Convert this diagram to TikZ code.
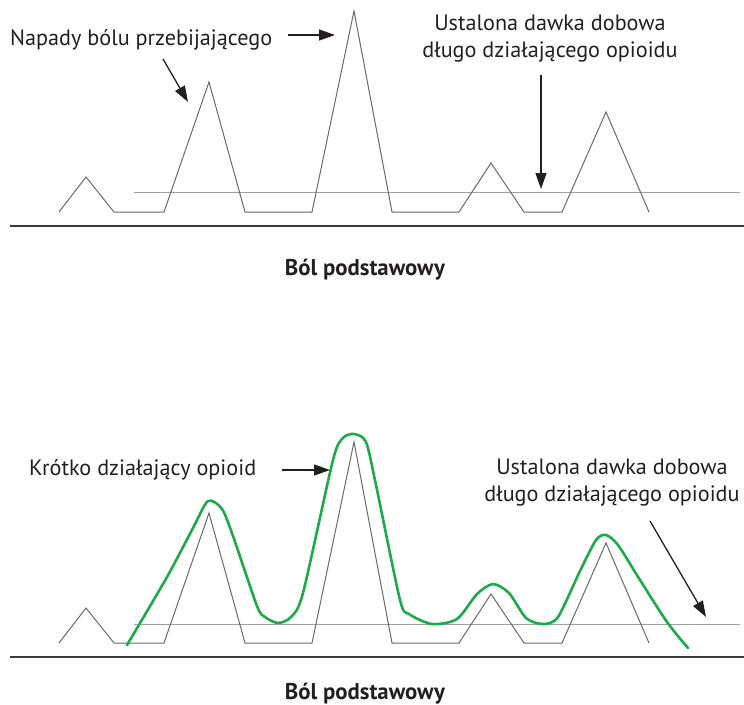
\documentclass[tikz,border=0pt]{standalone}
\usepackage{fontspec}
\setmainfont{PT Sans}
\usetikzlibrary{arrows.meta}
\definecolor{tracegray}{RGB}{105,105,105}
\definecolor{dosegray}{RGB}{160,160,160}
\definecolor{axisgray}{RGB}{60,60,60}
\definecolor{reliefgreen}{RGB}{30,170,75}
\definecolor{inkgray}{RGB}{35,31,32}
\begin{document}
\begin{tikzpicture}[x=1pt,y=-1pt,
  trace/.style={draw=tracegray,line width=1pt,line join=miter},
  doseline/.style={draw=dosegray,line width=1pt},
  axisline/.style={draw=axisgray,line width=2pt},
  relief/.style={draw=reliefgreen,line width=2.6pt,line cap=round,line join=round},
  lbl/.style={text=inkgray,inner sep=0pt,font=\fontsize{22.2}{27}\selectfont},
  lbltwo/.style={lbl,align=center},
  axislbl/.style={text=inkgray,inner sep=0pt,font=\fontsize{22.8}{27}\selectfont\bfseries},
  pointer/.style={draw=inkgray,line width=1.3pt,-{Triangle[length=16pt,width=11pt]}}]
\useasboundingbox (0,0) rectangle (744,704);

% ---------- upper panel: baseline pain with breakthrough episodes ----------
\draw[axisline] (10,226) -- (744,226);
\draw[doseline] (134,192) -- (740,192);
\draw[trace] (59,212) -- (86,177) -- (114,212) -- (164,212) -- (209,82) -- (245,212)
  -- (312,212) -- (354,11) -- (392,212) -- (459,212) -- (491,163) -- (524,212)
  -- (562,212) -- (606,112) -- (649,212);

\node[lbl,anchor=base west] (bt) at (10,45) {Napady bólu przebijającego};
\coordinate (bta) at (288,35);
\coordinate (btb) at (335,35);
\draw[pointer] (bta) -- (btb);
\coordinate (bdA) at (163,59);
\coordinate (bdB) at (188,102);
\draw[pointer] (bdA) -- (bdB);

% anchor "base" of a two-line node sits on its last line
\node[lbltwo,anchor=base] (ldA) at (550,57) {Ustalona dawka dobowa\\długo działającego opioidu};
\coordinate (ldAt) at (541,75);
\coordinate (ldAh) at (541,189);
\draw[pointer] (ldAt) -- (ldAh);

\node[axislbl,anchor=base] (axA) at (365,275) {Ból podstawowy};

% ---------- lower panel: same pattern with short-acting rescue dosing ----------
\draw[axisline] (10,657) -- (744,657);
\draw[doseline] (134,624) -- (740,624);
\begin{scope}[shift={(0,431)}]
\draw[trace] (59,212) -- (86,177) -- (114,212) -- (164,212) -- (209,82) -- (245,212)
  -- (312,212) -- (354,11) -- (392,212) -- (459,212) -- (491,163) -- (524,212)
  -- (562,212) -- (606,112) -- (649,212);
\end{scope}

\draw[relief] plot[smooth,tension=0.45] coordinates {
  (127,645) (167,577) (193,528) (208,501) (222,509) (233,536) (257,606) (265,617)
  (278,623) (291,617) (303,593) (333,460) (343,438) (354,434) (366,442) (376,485)
  (400,600) (409,614) (432,624) (457,619) (477,594) (493,584) (509,593) (526,618)
  (543,624) (558,617) (580,571) (596,540) (606,535) (618,545) (640,580) (667,622)
  (688,648)};

\node[lbl,anchor=base west] (sa) at (29,475) {Krótko działający opioid};
\coordinate (saa) at (282,470);
\coordinate (sab) at (330,470);
\draw[pointer] (saa) -- (sab);

\node[lbltwo,anchor=base] (ldB) at (612,501) {Ustalona dawka dobowa\\długo działającego opioidu};
\coordinate (ldBt) at (650,521);
\coordinate (ldBh) at (706,617);
\draw[pointer] (ldBt) -- (ldBh);

\node[axislbl,anchor=base] (axB) at (365,699) {Ból podstawowy};
\end{tikzpicture}
\end{document}
